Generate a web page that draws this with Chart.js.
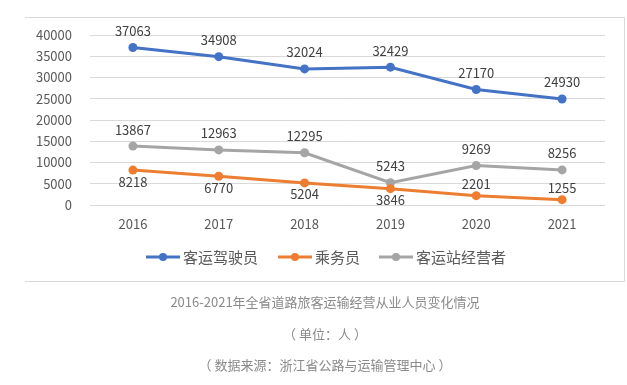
<!DOCTYPE html>
<html>
<head>
<meta charset="utf-8">
<script src="https://cdn.jsdelivr.net/npm/chart.js@4.4.0/dist/chart.umd.min.js"></script>
<style>
  html, body { margin: 0; padding: 0; background: #fff; }
  #wrap { position: relative; width: 627px; height: 385px; }
  .cap { position: absolute; left: 0; width: 650px; text-align: center; color: #8a8a8a;
         font: 13px "Noto Sans CJK SC", "Noto Sans", sans-serif; line-height: 16px; }
</style>
</head>
<body>
<div id="wrap">
  <canvas id="myChart" width="627" height="385"></canvas>
  <div class="cap" style="top:294px">2016-2021年全省道路旅客运输经营从业人员变化情况</div>
  <div class="cap" style="top:326px">（ 单位：人 ）</div>
  <div class="cap" style="top:357px">（ 数据来源：浙江省公路与运输管理中心 ）</div>
</div>
<script>
const years = ['2016', '2017', '2018', '2019', '2020', '2021']
const drivers = [37063, 34908, 32024, 32429, 27170, 24930]
const crew = [8218, 6770, 5204, 3846, 2201, 1255]
const stationOps = [13867, 12963, 12295, 5243, 9269, 8256]
const seriesNames = ['客运驾驶员', '乘务员', '客运站经营者']
const colors = ['#4472C4', '#ED7D31', '#A5A5A5']
// where each value label sits relative to its point
const labelPos = [
    ['up', 'up', 'up', 'up', 'up', 'up'],
    ['down', 'down', 'down', 'down', 'up', 'up'],
    ['up', 'up', 'up', 'up', 'up', 'up']
]

const font = '"Noto Sans CJK SC", "Noto Sans", sans-serif'

const extras = {
    id: 'extras',
    afterDatasetsDraw(chart) {
        const ctx = chart.ctx
        ctx.save()
        // frame (left side cut off as in the original)
        ctx.strokeStyle = '#d9d9d9'
        ctx.lineWidth = 1
        ctx.beginPath()
        ctx.moveTo(25, 17.5); ctx.lineTo(624.5, 17.5); ctx.lineTo(624.5, 281.5); ctx.lineTo(25, 281.5)
        ctx.stroke()

        // value labels
        ctx.font = '13px ' + font
        ctx.fillStyle = '#404040'
        ctx.textAlign = 'center'
        chart.data.datasets.forEach((ds, i) => {
            chart.getDatasetMeta(i).data.forEach((pt, j) => {
                if (labelPos[i][j] === 'up') {
                    ctx.textBaseline = 'bottom'
                    ctx.fillText(ds.data[j], pt.x, pt.y - (i === 1 ? 5 : 10))
                } else {
                    ctx.textBaseline = 'top'
                    ctx.fillText(ds.data[j], pt.x, pt.y + 5)
                }
            })
        })

        // legend
        const legendX = [146, 278, 379]
        const ly = 257
        ctx.font = '15px ' + font
        ctx.textAlign = 'left'
        ctx.textBaseline = 'middle'
        seriesNames.forEach((name, i) => {
            const x = legendX[i]
            ctx.strokeStyle = colors[i]
            ctx.lineWidth = 3
            ctx.beginPath(); ctx.moveTo(x, ly); ctx.lineTo(x + 34, ly); ctx.stroke()
            ctx.fillStyle = colors[i]
            ctx.beginPath(); ctx.arc(x + 17, ly, 4, 0, Math.PI * 2); ctx.fill()
            ctx.fillStyle = '#595959'
            ctx.fillText(name, x + 37, ly)
        })
        ctx.restore()
    }
}

const mkSet = (label, data, color) => ({
    label, data,
    borderColor: color,
    backgroundColor: color,
    borderWidth: 3,
    pointRadius: 4.5,
    pointHoverRadius: 4.5,
    pointBorderWidth: 0,
    tension: 0
})

new Chart(document.getElementById('myChart'), {
    type: 'line',
    data: {
        labels: years,
        datasets: [
            mkSet(seriesNames[0], drivers, colors[0]),
            mkSet(seriesNames[1], crew, colors[1]),
            mkSet(seriesNames[2], stationOps, colors[2])
        ]
    },
    options: {
        responsive: false,
        animation: false,
        events: [],
        layout: { padding: { left: 0, right: 22, top: 35, bottom: 130 } },
        plugins: { legend: { display: false }, tooltip: { enabled: false } },
        scales: {
            x: {
                offset: true,
                grid: { display: false },
                border: { display: false },
                ticks: { color: '#595959', font: { family: font, size: 13 }, padding: 3 },
                afterFit: s => { s.height = 50 }
            },
            y: {
                min: 0, max: 40000,
                grid: { color: '#d9d9d9', drawTicks: false },
                border: { display: false },
                ticks: { stepSize: 5000, color: '#595959', font: { family: font, size: 13 }, padding: 18,
                         callback: v => String(v) },
                afterFit: s => { s.width = 90 }
            }
        }
    },
    plugins: [extras]
})
</script>
</body>
</html>
